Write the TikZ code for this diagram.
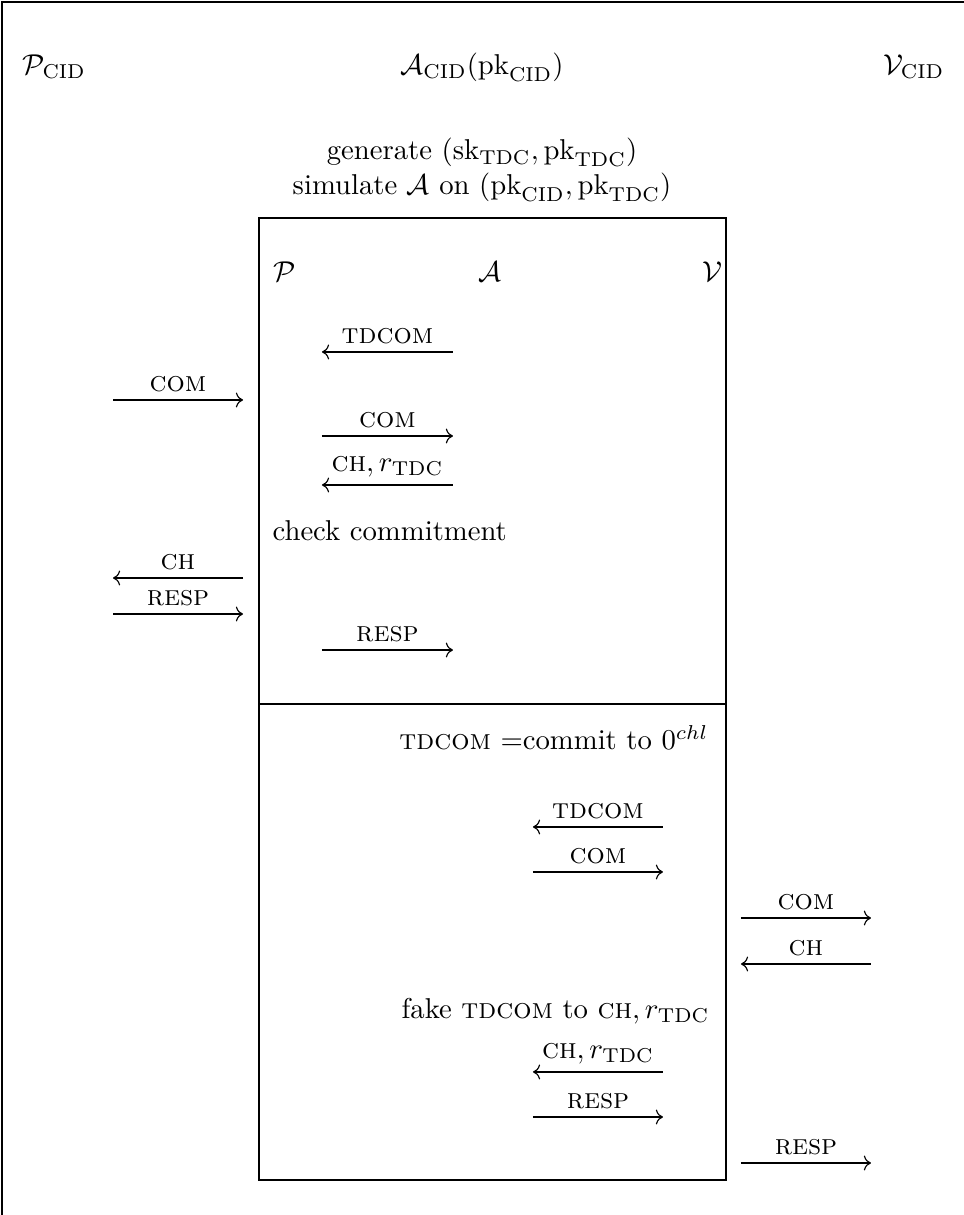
\documentclass[tikz,border=0pt]{standalone}
\usepackage{amsmath}
\usepackage{tikz}
\usetikzlibrary{arrows.meta,positioning,calc}
\newcommand{\cid}{\mathrm{CID}}
\newcommand{\tdc}{\mathrm{TDC}}
\tikzset{
  frame/.style={draw=black, line width=0.7pt},
  msg/.style={->, draw=black, line width=0.4pt},
  lbl/.style={above, inner sep=2.5pt},
  party/.style={inner sep=0pt},
  note/.style={inner sep=0pt, align=center},
}

\begin{document}
\begin{tikzpicture}
  \useasboundingbox (0,0) rectangle (11.805,-14.879);
  \draw[frame] (0.02,-14.879) -- (0.02,-0.02) -- (11.805,-0.02);

  % outer parties
  \node[party, anchor=west] (pcid) at (0.269,-0.82) {$\mathcal{P}_{\cid}$};
  \node[party] (acid) at (5.903,-0.82) {$\mathcal{A}_{\cid}(\mathrm{pk}_{\cid})$};
  \node[party, anchor=east] (vcid) at (11.572,-0.82) {$\mathcal{V}_{\cid}$};
  \node[note] (setup) at (5.903,-2.08)
    {generate $(\mathrm{sk}_{\tdc},\mathrm{pk}_{\tdc})$\\simulate $\mathcal{A}$ on $(\mathrm{pk}_{\cid},\mathrm{pk}_{\tdc})$};

  % simulated adversary
  \draw[frame] (3.172,-2.670) rectangle (8.890,-14.450);
  \draw[frame] (3.172,-8.621) -- (8.890,-8.621);
  \node[party, anchor=west] (p) at (3.343,-3.331) {$\mathcal{P}$};
  \node[party] (a) at (6.000,-3.331) {$\mathcal{A}$};
  \node[party, anchor=east] (v) at (8.854,-3.331) {$\mathcal{V}$};

  % message ends
  \coordinate (m1a) at (5.547,-4.310);  \coordinate (m1b) at (3.943,-4.310);
  \coordinate (m2a) at (1.384,-4.898);  \coordinate (m2b) at (2.976,-4.898);
  \coordinate (m3a) at (3.943,-5.339);  \coordinate (m3b) at (5.547,-5.339);
  \coordinate (m4a) at (5.547,-5.939);  \coordinate (m4b) at (3.943,-5.939);
  \coordinate (m5a) at (2.976,-7.078);  \coordinate (m5b) at (1.384,-7.078);
  \coordinate (m6a) at (1.384,-7.519);  \coordinate (m6b) at (2.976,-7.519);
  \coordinate (m7a) at (3.943,-7.960);  \coordinate (m7b) at (5.547,-7.960);
  \coordinate (n1a) at (8.119,-10.127); \coordinate (n1b) at (6.527,-10.127);
  \coordinate (n2a) at (6.527,-10.678); \coordinate (n2b) at (8.119,-10.678);
  \coordinate (n3a) at (9.074,-11.242); \coordinate (n3b) at (10.666,-11.242);
  \coordinate (n4a) at (10.666,-11.805); \coordinate (n4b) at (9.074,-11.805);
  \coordinate (n5a) at (8.119,-13.127); \coordinate (n5b) at (6.527,-13.127);
  \coordinate (n6a) at (6.527,-13.679); \coordinate (n6b) at (8.119,-13.679);
  \coordinate (n7a) at (9.074,-14.242); \coordinate (n7b) at (10.666,-14.242);

  % first half: forward the real prover
  \draw[msg] (m1a) -- node[lbl] {\textsc{tdcom}} (m1b);
  \draw[msg] (m2a) -- node[lbl] {\textsc{com}} (m2b);
  \draw[msg] (m3a) -- node[lbl] {\textsc{com}} (m3b);
  \draw[msg] (m4a) -- node[lbl] {\textsc{ch}$, r_{\tdc}$} (m4b);
  \node[party, anchor=west] (check) at (3.331,-6.502) {check commitment};
  \draw[msg] (m5a) -- node[lbl] {\textsc{ch}} (m5b);
  \draw[msg] (m6a) -- node[lbl] {\textsc{resp}} (m6b);
  \draw[msg] (m7a) -- node[lbl] {\textsc{resp}} (m7b);

  % second half: play the prover
  \node[party, anchor=east] (commit) at (8.682,-9.037) {\textsc{tdcom} =commit to $0^{chl}$};
  \draw[msg] (n1a) -- node[lbl] {\textsc{tdcom}} (n1b);
  \draw[msg] (n2a) -- node[lbl] {\textsc{com}} (n2b);
  \draw[msg] (n3a) -- node[lbl] {\textsc{com}} (n3b);
  \draw[msg] (n4a) -- node[lbl] {\textsc{ch}} (n4b);
  \node[party, anchor=east] (fake) at (8.694,-12.380) {fake \textsc{tdcom} to \textsc{ch}$, r_{\tdc}$};
  \draw[msg] (n5a) -- node[lbl] {\textsc{ch}$, r_{\tdc}$} (n5b);
  \draw[msg] (n6a) -- node[lbl] {\textsc{resp}} (n6b);
  \draw[msg] (n7a) -- node[lbl] {\textsc{resp}} (n7b);
\end{tikzpicture}
\end{document}
